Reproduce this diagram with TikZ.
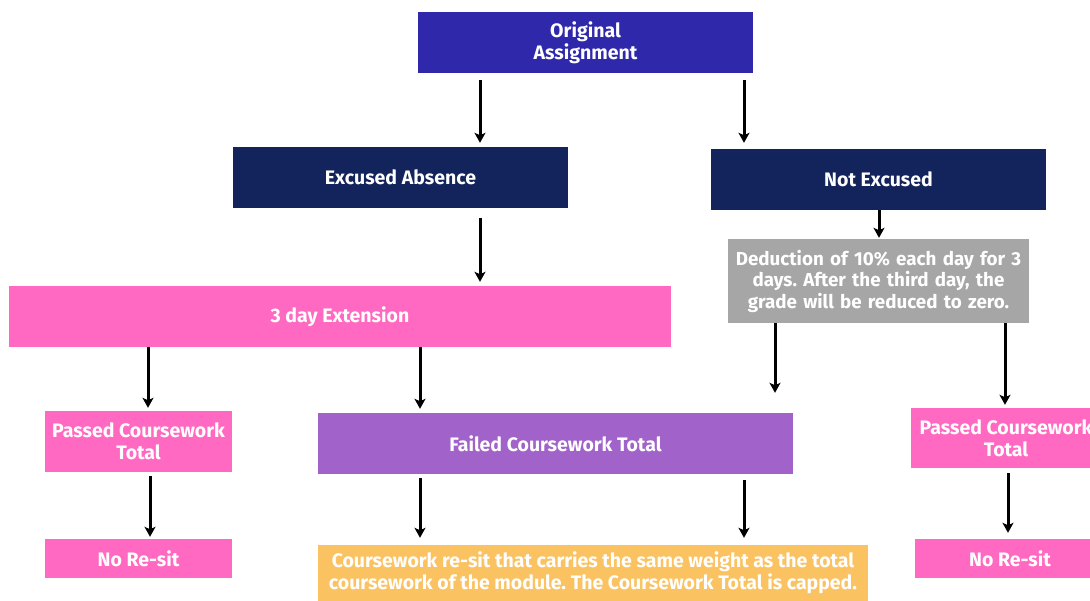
\documentclass[tikz,border=0pt]{standalone}
\usepackage{fontspec}
\setmainfont{Fira Sans}
\usetikzlibrary{arrows.meta,calc}
\definecolor{royal}{HTML}{2F28AB}
\definecolor{navy}{HTML}{13235B}
\definecolor{grayb}{HTML}{A6A6A6}
\definecolor{pinkb}{HTML}{FF69C1}
\definecolor{purpleb}{HTML}{A163C9}
\definecolor{orangeb}{HTML}{FBC262}
\frenchspacing
\tikzset{
  box/.style={rectangle, inner sep=0pt, align=center, text=white,
    font=\fontsize{19.5}{22}\selectfont\bfseries},
  arr/.style={-{Stealth[length=10pt,width=11pt,inset=2.5pt]}, line width=3pt, black}
}
\begin{document}
\begin{tikzpicture}[x=1pt,y=-1pt]
\clip (0,0) rectangle (1090,601);
\fill[white] (0,0) rectangle (1090,601);
% nodes
\node[box, fill=royal, minimum width=335, minimum height=61] (orig) at (585.5,42.5) {Original\\Assignment};
\node[box, fill=navy, minimum width=335, minimum height=61] (exc) at (400.5,177.5) {Excused Absence};
\node[box, fill=navy, minimum width=335, minimum height=61] (nexc) at (878.5,179.5) {Not Excused};
\node[box, fill=grayb, minimum width=301, minimum height=84, text width=299, font=\fontsize{18.8}{21.5}\selectfont\bfseries] (ded) at (878.5,281) {Deduction of 10\% each day for 3\\days. After the third day, the\\grade will be reduced to zero.};
\node[box, fill=pinkb, minimum width=662, minimum height=61] (ext) at (340,316.5) {3 day Extension};
\node[box, fill=pinkb, minimum width=187, minimum height=61] (passl) at (138.5,441.5) {Passed Coursework\\Total};
\node[box, fill=purpleb, minimum width=475, minimum height=61] (fail) at (555.5,443.5) {Failed Coursework Total};
\node[box, fill=pinkb, minimum width=190, minimum height=60] (passr) at (1006,438) {Passed Coursework\\Total};
\node[box, fill=pinkb, minimum width=187, minimum height=39] (nrl) at (138.5,558.5) {No Re-sit};
\node[box, fill=orangeb, minimum width=550, minimum height=56] (resit) at (593,573) {Coursework re-sit that carries the same weight as the total\\coursework of the module. The Coursework Total is capped.};
\node[box, fill=pinkb, minimum width=190, minimum height=39] (nrr) at (1010,558.5) {No Re-sit};
% connectors
\draw[arr, shorten <=7pt, shorten >=4pt] (orig.south -| 480,0) -- (exc.north -| 480,0);
\draw[arr, shorten <=7pt, shorten >=6pt] (orig.south -| 744,0) -- (nexc.north -| 744,0);
\draw[arr, shorten <=0pt, shorten >=1pt] (nexc.south -| 879,0) -- (ded.north -| 879,0);
\draw[arr, shorten <=10pt, shorten >=4pt] (exc.south -| 480,0) -- (ext.north -| 480,0);
\draw[arr, shorten >=3pt] (ext.south -| 148,0) -- (passl.north -| 148,0);
\draw[arr, shorten >=4pt] (ext.south -| 420,0) -- (fail.north -| 420,0);
\draw[arr, shorten >=20pt] (ded.south -| 775,0) -- (fail.north -| 775,0);
\draw[arr, shorten >=3pt] (ded.south -| 1005,0) -- (passr.north -| 1005,0);
\draw[arr, shorten <=4pt, shorten >=2pt] (passl.south -| 150,0) -- (nrl.north -| 150,0);
\draw[arr, shorten <=4pt, shorten >=7pt] (fail.south -| 420,0) -- (resit.north -| 420,0);
\draw[arr, shorten <=6pt, shorten >=7pt] (fail.south -| 744,0) -- (resit.north -| 744,0);
\draw[arr, shorten <=5pt, shorten >=6pt] (passr.south -| 1008,0) -- (nrr.north -| 1008,0);
\end{tikzpicture}
\end{document}
